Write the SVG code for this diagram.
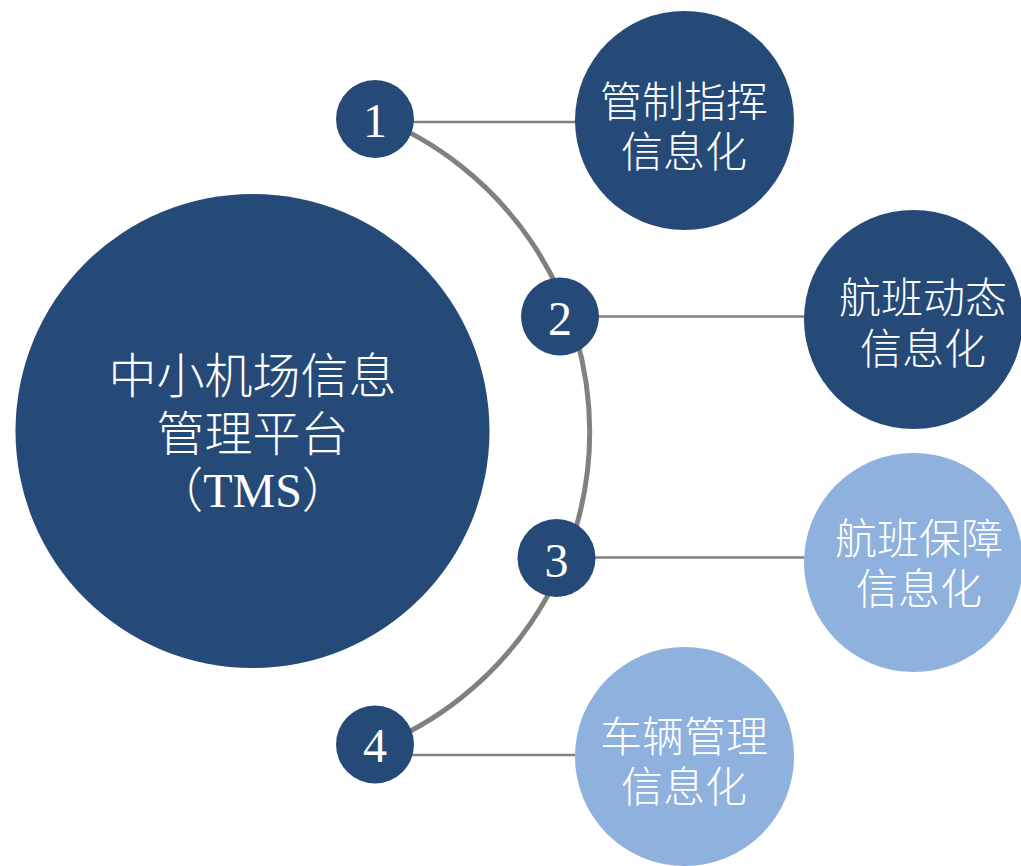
<svg xmlns="http://www.w3.org/2000/svg" width="1021" height="866" viewBox="0 0 1021 866">
<style>
.dark{fill:#254A78}
.light{fill:#8FB1DE}
.conn{stroke:#808080;fill:none}
.cjk{font-family:"Noto Sans CJK SC","Noto Sans",sans-serif;font-weight:300;fill:#FFFFFF;text-anchor:middle}
.num{font-family:"Liberation Serif",serif;fill:#FFFFFF;text-anchor:middle;font-size:48px}
</style>
<rect width="1021" height="866" fill="#FFFFFF"/>
<g id="connectors">
<path class="conn" stroke-width="5" d="M376,117 A339,339 0 0,1 376,747"/>
<line class="conn" stroke-width="2.5" x1="375" y1="122" x2="684" y2="122"/>
<line class="conn" stroke-width="2.5" x1="560" y1="316.5" x2="913" y2="316.5"/>
<line class="conn" stroke-width="2.5" x1="556" y1="557.5" x2="913" y2="557.5"/>
<line class="conn" stroke-width="2.5" x1="375" y1="755" x2="684" y2="755"/>
</g>
<g id="center">
<circle class="dark" cx="252.5" cy="431" r="237"/>
<text class="cjk" font-size="48" x="252.5" y="393">中小机场信息</text>
<text class="cjk" font-size="48" x="252.5" y="451">管理平台</text>
<text class="cjk" font-size="48" x="252.5" y="507">（<tspan font-family="Liberation Serif" font-weight="400">TMS</tspan>）</text>
</g>
<g id="n1">
<circle class="dark" cx="375" cy="119" r="39"/>
<text class="num" x="375" y="137">1</text>
</g>
<g id="n2">
<circle class="dark" cx="560" cy="316.5" r="39"/>
<text class="num" x="560" y="335">2</text>
</g>
<g id="n3">
<circle class="dark" cx="556.5" cy="558" r="39"/>
<text class="num" x="556.5" y="577">3</text>
</g>
<g id="n4">
<circle class="dark" cx="375" cy="744.5" r="39"/>
<text class="num" x="375" y="762">4</text>
</g>
<g id="c1">
<circle class="dark" cx="684.5" cy="120.5" r="109.5"/>
<text class="cjk" font-size="42" x="684" y="117">管制指挥</text>
<text class="cjk" font-size="42" x="684" y="167">信息化</text>
</g>
<g id="c2">
<circle class="dark" cx="913.5" cy="319.5" r="109.5"/>
<text class="cjk" font-size="42" x="923" y="313">航班动态</text>
<text class="cjk" font-size="42" x="923" y="364">信息化</text>
</g>
<g id="c3">
<circle class="light" cx="913.5" cy="562.5" r="109.5"/>
<text class="cjk" font-size="42" x="919" y="554">航班保障</text>
<text class="cjk" font-size="42" x="919" y="604">信息化</text>
</g>
<g id="c4">
<circle class="light" cx="684.5" cy="756.5" r="109.5"/>
<text class="cjk" font-size="42" x="684" y="752">车辆管理</text>
<text class="cjk" font-size="42" x="684" y="802">信息化</text>
</g>
</svg>
